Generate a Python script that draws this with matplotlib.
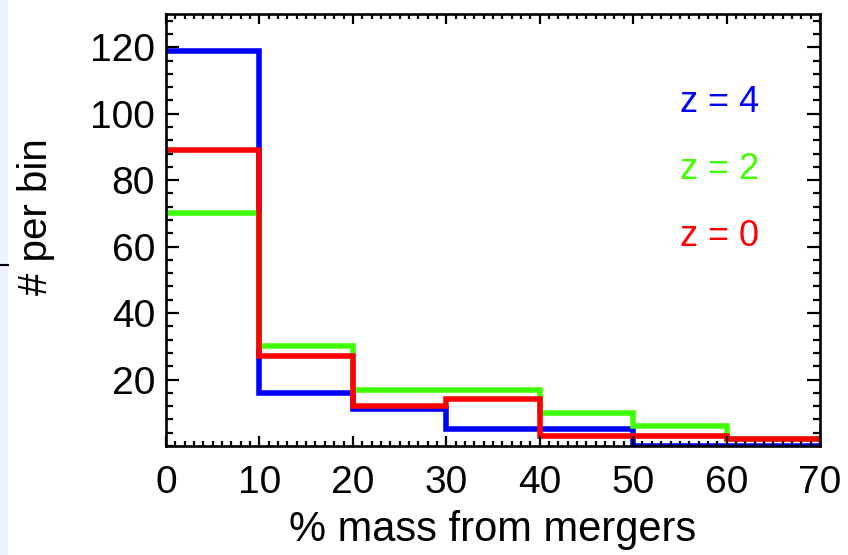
import matplotlib
matplotlib.use("Agg")
import matplotlib.pyplot as plt
from matplotlib.ticker import MultipleLocator

plt.rcParams['font.family'] = ['Liberation Sans', 'DejaVu Sans']

# Histogram bin edges (% of stellar mass from mergers)
bin_edges = [0, 10, 20, 30, 40, 50, 60, 70]

# Counts per bin at each redshift
counts_z4 = [119, 16, 11, 5, 5, 0, 0]
counts_z2 = [70, 30, 17, 17, 10, 6, 2]
counts_z0 = [89, 27, 12, 14, 3, 3, 2]

labels = ["z = 4", "z = 2", "z = 0"]
colors = ["#0000ff", "#40ff00", "#ff0000"]

x_ticks = [0, 10, 20, 30, 40, 50, 60, 70]
y_ticks = [20, 40, 60, 80, 100, 120]

fig = plt.figure(figsize=(8.48, 5.55), dpi=100)
ax = fig.add_axes([166 / 848, 1 - 446 / 555, (820 - 166) / 848, (446 - 14) / 555])

for vals, col in zip([counts_z4, counts_z2, counts_z0], colors):
    ax.stairs(vals, bin_edges, baseline=None, color=col, linewidth=4.0)

ax.set_xlim(0, 70)
ax.set_ylim(0, 130)
ax.set_xticks(x_ticks)
ax.set_yticks(y_ticks)
ax.xaxis.set_minor_locator(MultipleLocator(1))
ax.yaxis.set_minor_locator(MultipleLocator(4))

ax.tick_params(axis='both', which='both', direction='in',
               top=True, right=True, width=1.6, colors='black')
ax.tick_params(axis='x', which='major', length=7, pad=14, labelsize=28)
ax.tick_params(axis='x', which='minor', length=3.5)
ax.tick_params(axis='y', which='major', length=9.5, pad=8, labelsize=28)
ax.tick_params(axis='y', which='minor', length=5)

for sp in ax.spines.values():
    sp.set_linewidth(1.9)
    sp.set_zorder(3)

ax.set_xlabel("% mass from mergers", fontsize=30, va='top')
ax.xaxis.set_label_coords(0.5, -0.148)
ax.set_ylabel("# per bin", fontsize=29)
ax.yaxis.set_label_coords(-0.170, 0.53)

for i, (lab, col) in enumerate(zip(labels, colors)):
    ax.text(0.786, 0.796 - i * 0.155, lab, color=col, fontsize=26,
            transform=ax.transAxes, ha='left', va='center')

# Light strip and small mark on the left margin
fig.patches.append(plt.Rectangle((0, 0), 8 / 848, 1, transform=fig.transFigure,
                                 facecolor='#eef3fa', edgecolor='none', zorder=0))
fig.add_artist(plt.Line2D([0, 8 / 848], [1 - 265 / 555] * 2, transform=fig.transFigure,
                          color='black', linewidth=1.5))

fig.savefig("out.png", dpi=100)
